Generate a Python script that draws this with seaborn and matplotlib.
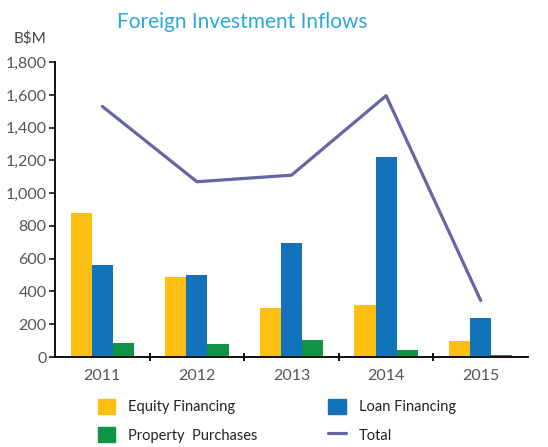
import pandas as pd
import numpy as np
import matplotlib
matplotlib.use("Agg")
import matplotlib.pyplot as plt
from matplotlib.patches import Patch
from matplotlib.lines import Line2D
import seaborn as sns

# values (B$M)
years = ["2011", "2012", "2013", "2014", "2015"]
equity = [880, 490, 300, 320, 95]
loan = [560, 500, 695, 1220, 240]
prop = [88, 80, 105, 45, 14]
total = [1530, 1070, 1110, 1595, 345]
series_names = ["Equity Financing", "Loan Financing", "Property  Purchases"]

colors = ["#FCBF12", "#1273BA", "#0F9445"]
line_color = "#6566A3"

sns.set_style("white")
plt.rcParams["font.family"] = ["Lato", "DejaVu Sans"]

df = pd.DataFrame({
    "year": years * 3,
    "value": equity + loan + prop,
    "series": np.repeat(series_names, len(years)),
})

fig = plt.figure(figsize=(5.48, 4.47), dpi=100)
ax = fig.add_axes([0.1004, 0.2013, 0.8631, 0.6597])

sns.barplot(data=df, x="year", y="value", hue="series", palette=colors,
            width=0.67, saturation=1, ax=ax, legend=False, linewidth=0)
sns.pointplot(x=years, y=total, color=line_color, markers="", linestyles="-",
              ax=ax, linewidth=2.3)

ax.set_xlim(-0.5, 4.5)
ax.set_ylim(0, 1800)
ax.set_yticks(range(0, 1801, 200))
ax.set_yticklabels([f"{v:,}" for v in range(0, 1801, 200)])
ax.set_xlabel("")
ax.set_ylabel("")

for s in ["top", "right"]:
    ax.spines[s].set_visible(False)
for s in ["left", "bottom"]:
    ax.spines[s].set_color("#111111")
    ax.spines[s].set_linewidth(1.4)

ax.tick_params(axis="y", which="major", left=True, length=4, width=1.2,
               color="#111111", labelsize=11.5, labelcolor="#555555", pad=2)
ax.tick_params(axis="x", which="major", bottom=False, labelsize=11.5,
               labelcolor="#555555", pad=5)
ax.set_xticks(np.arange(0.5, 4.5, 1), minor=True)
ax.tick_params(axis="x", which="minor", bottom=True, direction="inout",
               length=6, width=1.4, color="#111111")

fig.text(0.442, 0.95, "Foreign Investment Inflows", ha="center", va="center",
         fontsize=15, color="#2AA8E0")
fig.text(0.055, 0.915, "B$M", ha="center", va="center", fontsize=11,
         color="#444444")

handles = [
    Patch(color=colors[0], label=series_names[0]),
    Patch(color=colors[2], label=series_names[2]),
    Patch(color=colors[1], label=series_names[1]),
    Line2D([0], [0], color=line_color, lw=2.3, label="Total"),
]
fig.legend(handles=handles, loc="upper left", ncol=2,
           bbox_to_anchor=(0.178, 0.108), frameon=False, fontsize=10.5,
           columnspacing=4.85, handlelength=1.2, handleheight=1.2,
           labelspacing=0.9, handletextpad=0.9, labelcolor="#222222",
           borderpad=0, borderaxespad=0)

fig.savefig("out.png", dpi=100)
